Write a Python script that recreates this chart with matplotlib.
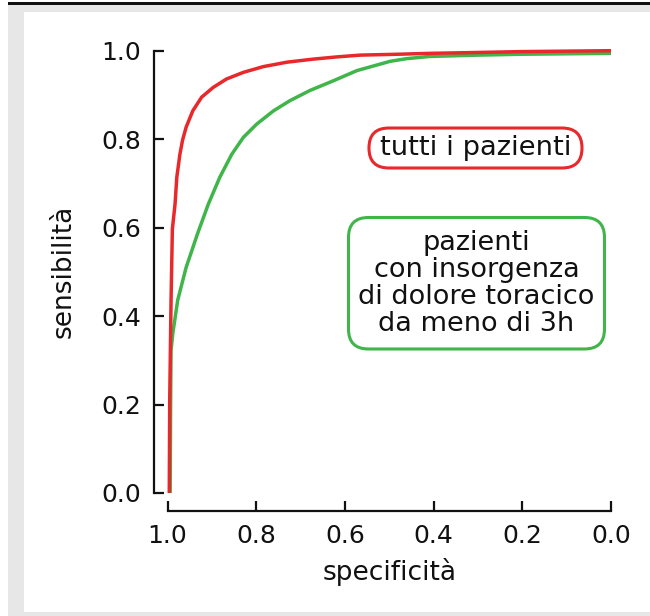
import matplotlib
matplotlib.use("Agg")
import matplotlib.pyplot as plt
from matplotlib.patches import Rectangle, FancyBboxPatch

# specificity (x, reversed axis) / sensitivity (y)
all_spec = [0.996, 0.995, 0.992, 0.989, 0.983, 0.979, 0.972, 0.966, 0.958, 0.943,
            0.923, 0.897, 0.867, 0.829, 0.784, 0.731, 0.671, 0.618, 0.566, 0.480,
            0.409, 0.300, 0.200, 0.100, 0.0]
all_sens = [0.0, 0.21, 0.436, 0.597, 0.653, 0.714, 0.766, 0.798, 0.827, 0.864,
            0.895, 0.917, 0.936, 0.951, 0.964, 0.974, 0.981, 0.986, 0.990, 0.992,
            0.994, 0.996, 0.998, 0.999, 1.0]

early_spec = [0.994, 0.993, 0.992, 0.988, 0.977, 0.958, 0.932, 0.908, 0.882, 0.855,
              0.829, 0.799, 0.761, 0.724, 0.679, 0.626, 0.573, 0.498, 0.461, 0.409,
              0.300, 0.200, 0.100, 0.0]
early_sens = [0.0, 0.2, 0.323, 0.361, 0.436, 0.51, 0.587, 0.653, 0.714, 0.766,
              0.804, 0.834, 0.864, 0.887, 0.910, 0.932, 0.955, 0.976, 0.982, 0.987,
              0.990, 0.992, 0.993, 0.994]

ticks = [0.0, 0.2, 0.4, 0.6, 0.8, 1.0]
tick_labels = ["0.0", "0.2", "0.4", "0.6", "0.8", "1.0"]

label_all = "tutti i pazienti"
label_early = "pazienti\ncon insorgenza\ndi dolore toracico\nda meno di 3h"

RED = "#e8282b"
GREEN = "#3fb54a"
GREY = "#e6e7e6"
INK = "#111111"

W, H = 650, 616
fig = plt.figure(figsize=(W / 100, H / 100), dpi=100, facecolor="white")

# page-like frame around the chart
fig.patches.append(Rectangle((8 / W, 0), 1 - 8 / W, 1 - 5 / H, transform=fig.transFigure,
                             facecolor=GREY, edgecolor="none", zorder=-3))
fig.patches.append(Rectangle((24 / W, 4 / H), 1 - 24 / W, 600 / H, transform=fig.transFigure,
                             facecolor="white", edgecolor="none", zorder=-2))
fig.patches.append(Rectangle((8 / W, 1 - 5 / H), 1 - 8 / W, 3 / H, transform=fig.transFigure,
                             facecolor=INK, edgecolor="none", zorder=-1))

ax = fig.add_axes([167.5 / W, 1 - 493 / H, 443.5 / W, 442.3 / H])
ax.patch.set_visible(False)

ax.plot(early_spec, early_sens, color=GREEN, lw=2.5, solid_capstyle="butt",
        solid_joinstyle="round", clip_on=False)
ax.plot(all_spec, all_sens, color=RED, lw=2.5, solid_capstyle="butt",
        solid_joinstyle="round", clip_on=False)

ax.set_xlim(1.0, 0.0)
ax.set_ylim(0.0, 1.0)
ax.set_xticks(ticks, tick_labels)
ax.set_yticks(ticks, tick_labels)

for side in ("top", "right"):
    ax.spines[side].set_visible(False)
ax.spines["left"].set_position(("outward", 9.7))
ax.spines["bottom"].set_position(("outward", 12.6))
ax.spines["left"].set_bounds(0, 1)
ax.spines["bottom"].set_bounds(1, 0)
for side in ("left", "bottom"):
    ax.spines[side].set_linewidth(1.6)
    ax.spines[side].set_color(INK)
ax.tick_params(direction="in", length=7.5, width=1.6, color=INK,
               labelsize=18, labelcolor=INK)
ax.tick_params(axis="y", pad=9.5)
ax.tick_params(axis="x", pad=10)

ax.set_xlabel("specificità", fontsize=19, color=INK, va="center")
ax.set_ylabel("sensibilità", fontsize=19, color=INK, va="center")
ax.xaxis.set_label_coords(0.5, -0.179)
ax.yaxis.set_label_coords(-0.235, 0.5)

# labelled boxes (axes coordinates)
ax.add_patch(FancyBboxPatch((0.4543, 0.7348), 0.4803, 0.0904,
                            boxstyle="round,pad=0,rounding_size=0.045",
                            transform=ax.transAxes, facecolor="white",
                            edgecolor=RED, lw=2.2, clip_on=False))
ax.text(0.6945, 0.780, label_all, transform=ax.transAxes, ha="center", va="center",
        fontsize=19.7, color=INK)

ax.add_patch(FancyBboxPatch((0.4081, 0.3256), 0.5772, 0.2973,
                            boxstyle="round,pad=0,rounding_size=0.045",
                            transform=ax.transAxes, facecolor="white",
                            edgecolor=GREEN, lw=2.2, clip_on=False))
ax.text(0.6967, 0.4745, label_early, transform=ax.transAxes, ha="center", va="center",
        ma="center", fontsize=19.5, linespacing=1.05, color=INK)

fig.savefig("out.png", dpi=100, facecolor=fig.get_facecolor())
